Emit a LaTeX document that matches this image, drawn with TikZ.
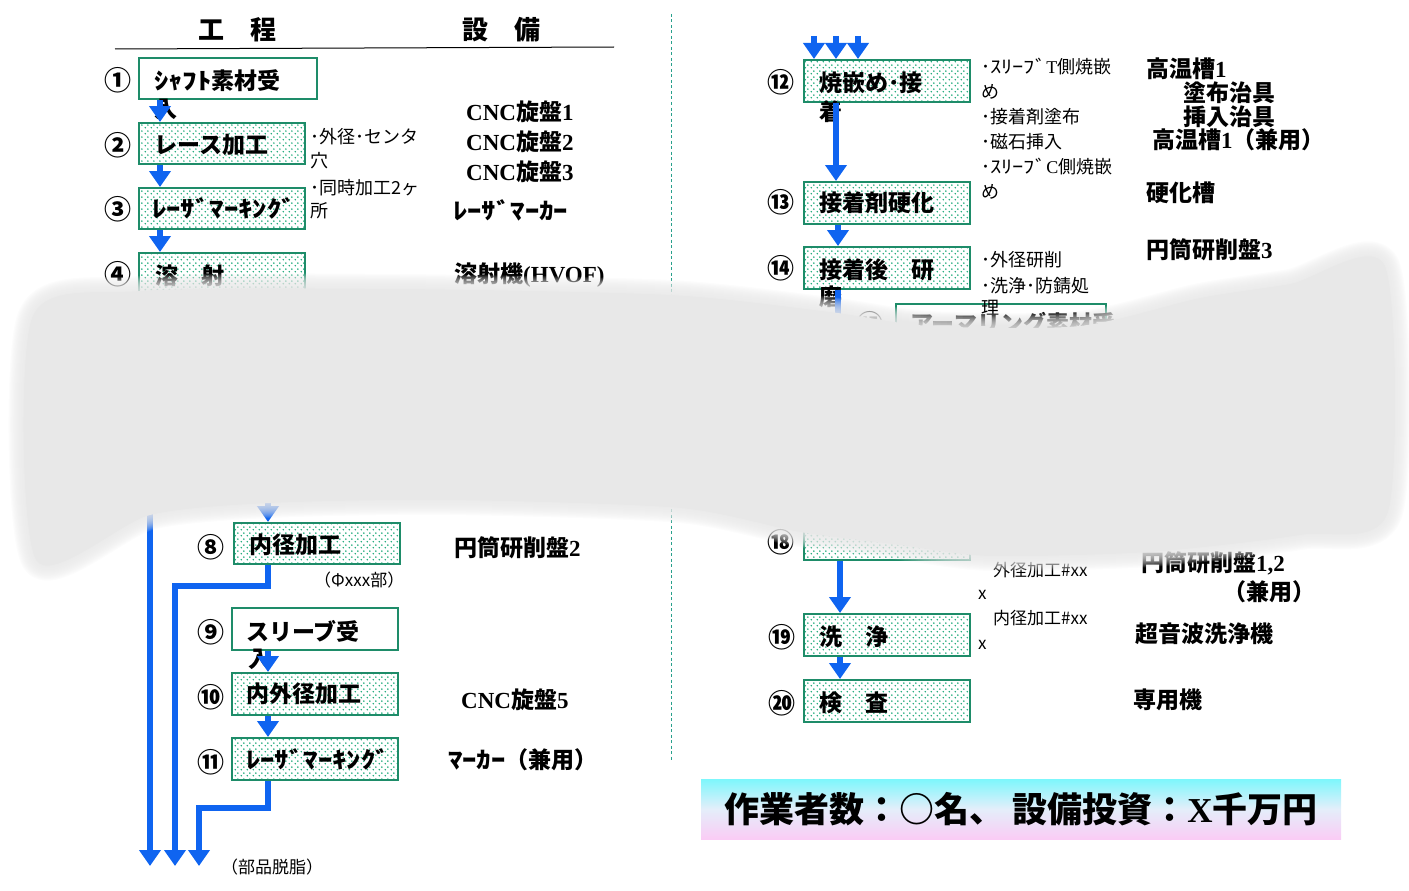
\documentclass[tikz,border=0pt]{standalone}
\usepackage{graphicx}
\usepackage{fontspec}
\setmainfont{Liberation Serif}
\newfontfamily\jp{Noto Sans CJK JP}
\newfontfamily\tnr{Liberation Serif}
\usetikzlibrary{arrows.meta,patterns.meta}
\definecolor{boxc}{RGB}{30,140,105}
\definecolor{dotc}{RGB}{20,165,115}
\definecolor{flowc}{RGB}{15,100,240}
\definecolor{dashc}{RGB}{40,160,140}
\definecolor{bandc}{RGB}{232,232,232}
\definecolor{topc}{RGB}{125,247,252}
\definecolor{midc}{RGB}{228,238,250}
\definecolor{botc}{RGB}{250,204,245}
\newcommand\romb[1]{{\tnr\bfseries #1}}
\newcommand\hwid[1]{\scalebox{1.25}[1]{#1}}
\tikzdeclarepattern{
  name=boxdots,
  type=uncolored,
  bounding box={(0pt,0pt) and (6pt,6pt)},
  tile size={(6pt,6pt)},
  code={
    \pgfpathcircle{\pgfpoint{1.5pt}{1.5pt}}{0.95pt}
    \pgfpathcircle{\pgfpoint{4.5pt}{4.5pt}}{0.95pt}
    \pgfusepath{fill}
  }
}
\tikzset{
  pbox/.style 2 args={draw=boxc, line width=2pt, pattern=boxdots, pattern color=dotc, minimum width=#1, minimum height=#2, anchor=north west, inner sep=0pt},
  wbox/.style 2 args={draw=boxc, line width=2pt, fill=white, minimum width=#1, minimum height=#2, anchor=north west, inner sep=0pt},
  boxtxt/.style={anchor=west, inner sep=0pt, font=\jp\bfseries\fontsize{23}{27}\selectfont},
  num/.style={inner sep=0pt, font=\jp\bfseries\fontsize{27}{30}\selectfont},
  note/.style={anchor=west, inner sep=0pt, font=\jp\fontsize{18}{21}\selectfont},
  small/.style={anchor=west, inner sep=0pt, font=\jp\fontsize{17}{20}\selectfont},
  equip/.style={anchor=west, inner sep=0pt, font=\jp\bfseries\fontsize{23}{27}\selectfont},
  head/.style={inner sep=0pt, font=\jp\bfseries\fontsize{26}{30}\selectfont},
  flow/.style={draw=flowc, line width=6pt, -{Triangle[width=21pt,length=16pt]}},
  link/.style={draw=flowc, line width=6pt},
  banner/.style={top color=topc, bottom color=botc, middle color=midc, minimum width=640pt, minimum height=60pt, inner sep=0pt, font=\jp\bfseries\fontsize{35}{40}\selectfont},
}
\def\bandpath{plot[smooth cycle, tension=0.45] coordinates {(32,318) (140,291) (400,289) (671,295) (830,312) (930,326) (1080,326) (1200,298) (1290,284) (1385,266) (1388,512) (1300,535) (1150,552) (990,556) (900,545) (800,532) (680,508) (450,500) (270,503) (150,515) (36,560)}}
\begin{document}
\begin{tikzpicture}[x=1pt,y=-1pt]
\useasboundingbox (0,0) rectangle (1409,891);

% header
\node[head] (hp) at (237,30) {工　程};
\node[head] (he) at (501,30) {設　備};
\coordinate (hl) at (115,49);
\coordinate (hr) at (614,47);
\draw[line width=1pt] (hl) -- (hr);

% divider
\coordinate (d1) at (671,14);
\coordinate (d2) at (671,760);
\draw[dashc, line width=1pt, dash pattern=on 3pt off 2.5pt] (d1) -- (d2);

% boxes
\node[wbox={178pt}{41pt}] (b1) at (138,57) {};
\node[pbox={166pt}{41pt}] (b2) at (138,122) {};
\node[pbox={166pt}{41pt}] (b3) at (138,187) {};
\node[pbox={166pt}{41pt}] (b4) at (138,252) {};
\node[pbox={166pt}{41pt}] (b8) at (233,522) {};
\node[wbox={166pt}{42pt}] (b9) at (231,607) {};
\node[pbox={166pt}{42pt}] (b10) at (231,672) {};
\node[pbox={166pt}{42pt}] (b11) at (231,737) {};
\node[pbox={166pt}{42pt}] (b12) at (803,59) {};
\node[pbox={166pt}{42pt}] (b13) at (803,181) {};
\node[pbox={166pt}{42pt}] (b14) at (803,246) {};
\node[wbox={210pt}{42pt}] (b15) at (895,303) {};
\node[pbox={166pt}{42pt}] (b18) at (803,517) {};
\node[pbox={166pt}{42pt}] (b19) at (803,613) {};
\node[pbox={166pt}{42pt}] (b20) at (803,679) {};

% numbers
\node[num] (n1) at (118,80) {①};
\node[num] (n2) at (118,145) {②};
\node[num] (n3) at (118,209) {③};
\node[num] (n4) at (118,274) {④};
\node[num] (n8) at (211,547) {⑧};
\node[num] (n9) at (211,632) {⑨};
\node[num] (n10) at (211,697) {⑩};
\node[num] (n11) at (211,762) {⑪};
\node[num] (n12) at (781,82) {⑫};
\node[num] (n13) at (781,202) {⑬};
\node[num] (n14) at (781,268) {⑭};
\node[num] (n15) at (870,324) {⑮};
\node[num] (n18) at (781,542) {⑱};
\node[num] (n19) at (782,637) {⑲};
\node[num] (n20) at (782,703) {⑳};

% box texts
\node[boxtxt] (t1) at (154,81) {\hwid{ｼｬﾌﾄ}素材受};
\node[boxtxt] (t1b) at (154,109) {入};
\node[boxtxt] (t2) at (154,145) {レース加工};
\node[boxtxt] (t3) at (152,208) {\hwid{ﾚｰｻﾞﾏｰｷﾝｸﾞ}};
\node[boxtxt] (t4) at (155,276) {溶　射};
\node[boxtxt] (t8) at (249,545) {内径加工};
\node[boxtxt] (t9) at (246,631) {スリーブ受};
\node[boxtxt] (t9b) at (248,659) {入};
\node[boxtxt] (t10) at (246,694) {内外径加工};
\node[boxtxt] (t11) at (246,759) {\hwid{ﾚｰｻﾞﾏｰｷﾝｸﾞ}};
\node[boxtxt] (t12) at (819,83) {焼嵌め･接};
\node[boxtxt] (t12b) at (819,112) {着};
\node[boxtxt] (t13) at (819,203) {接着剤硬化};
\node[boxtxt] (t14) at (819,270) {接着後　研};
\node[boxtxt] (t14b) at (819,297) {磨};
\node[boxtxt] (t15) at (910,324) {アーマリング素材受};
\node[boxtxt] (t19) at (819,637) {洗　浄};
\node[boxtxt] (t20) at (819,703) {検　査};

% notes
\node[note] (a1) at (310,137) {･外径･センタ};
\node[note] (a2) at (310,161) {穴};
\node[note] (a3) at (310,188) {･同時加工2ヶ};
\node[note] (a4) at (310,211) {所};
\node[note] (a5) at (981,67) {･\hwid{ｽﾘｰﾌﾞ}{\tnr T}側焼嵌};
\node[note] (a6) at (981,92) {め};
\node[note] (a7) at (981,117) {･接着剤塗布};
\node[note] (a8) at (981,142) {･磁石挿入};
\node[note] (a9) at (981,167) {･\hwid{ｽﾘｰﾌﾞ}{\tnr C}側焼嵌};
\node[note] (a10) at (981,192) {め};
\node[note] (a11) at (981,260) {･外径研削};
\node[note] (a12) at (981,286) {･洗浄･防錆処};
\node[note] (a13) at (981,308) {理};
\node[small] (a14) at (314,580) {（Φxxx部）};
\node[small] (a15) at (221,867) {（部品脱脂）};
\node[small] (a16) at (993,570) {外径加工\#xx};
\node[small] (a17) at (978,595) {x};
\node[small] (a18) at (993,618) {内径加工\#xx};
\node[small] (a19) at (978,645) {x};

% equipment
\node[equip] (e1) at (466,112) {\romb{CNC}旋盤\romb{1}};
\node[equip] (e2) at (466,142) {\romb{CNC}旋盤\romb{2}};
\node[equip] (e3) at (466,172) {\romb{CNC}旋盤\romb{3}};
\node[equip] (e4) at (453,210) {\hwid{ﾚｰｻﾞﾏｰｶｰ}};
\node[equip] (e5) at (454,275) {溶射機\romb{(HVOF)}};
\node[equip] (e8) at (454,548) {円筒研削盤\romb{2}};
\node[equip] (e10) at (461,700) {\romb{CNC}旋盤\romb{5}};
\node[equip] (e11) at (448,760) {\hwid{ﾏｰｶｰ}（兼用）};
\node[equip] (e12a) at (1146,69) {高温槽\romb{1}};
\node[equip] (e12b) at (1183,93) {塗布治具};
\node[equip] (e12c) at (1183,117) {挿入治具};
\node[equip] (e12d) at (1152,140) {高温槽\romb{1}（兼用）};
\node[equip] (e13) at (1146,193) {硬化槽};
\node[equip] (e14) at (1146,250) {円筒研削盤\romb{3}};
\node[equip] (e18a) at (1141,563) {円筒研削盤\romb{1,2}};
\node[equip] (e18b) at (1223,592) {（兼用）};
\node[equip] (e19) at (1135,634) {超音波洗浄機};
\node[equip] (e20) at (1133,700) {専用機};

% connectors left
\coordinate (in8) at (268,440);
\coordinate (s1) at (150,420);
\coordinate (L1) at (150,866);
\coordinate (k2) at (175,586);
\coordinate (L2) at (175,866);
\coordinate (k3) at (199,808);
\coordinate (L3) at (199,866);
\draw[flow] ([xshift=22pt]b1.south west) -- ([xshift=22pt]b2.north west);
\draw[flow] ([xshift=22pt]b2.south west) -- ([xshift=22pt]b3.north west);
\draw[flow] ([xshift=22pt]b3.south west) -- ([xshift=22pt]b4.north west);
\draw[flow] (in8) -- ([xshift=35pt]b8.north west);
\draw[flow] ([xshift=35pt]b8.south west) |- (k2) -- (L2);
\draw[flow] ([xshift=37pt]b9.south west) -- ([xshift=37pt]b10.north west);
\draw[flow] ([xshift=37pt]b10.south west) -- ([xshift=37pt]b11.north west);
\draw[flow] ([xshift=37pt]b11.south west) |- (k3) -- (L3);
\draw[flow] (s1) -- (L1);

% connectors right
\coordinate (r1) at (814,36);
\coordinate (r2) at (836,36);
\coordinate (r3) at (858,36);
\coordinate (c14) at (838,420);
\draw[flow] (r1) -- ([xshift=11pt]b12.north west);
\draw[flow] (r2) -- ([xshift=33pt]b12.north west);
\draw[flow] (r3) -- ([xshift=55pt]b12.north west);
\draw[flow] ([xshift=33pt]b12.south west) -- ([xshift=33pt]b13.north west);
\draw[flow] ([xshift=35pt]b13.south west) -- ([xshift=35pt]b14.north west);
\draw[link] ([xshift=35pt]b14.south west) -- (c14);
\draw[flow] ([xshift=37pt]b18.south west) -- ([xshift=37pt]b19.north west);
\draw[flow] ([xshift=37pt]b19.south west) -- ([xshift=37pt]b20.north west);

% obscuring band
\foreach \w in {30,28,...,2} {\draw[bandc, line width=\w pt, opacity=0.12, line join=round] \bandpath;}
\fill[bandc] \bandpath;

% banner
\node[banner] (ban) at (1021,809) {作業者数：○名、 設備投資：\romb{X}千万円};
\end{tikzpicture}
\end{document}
